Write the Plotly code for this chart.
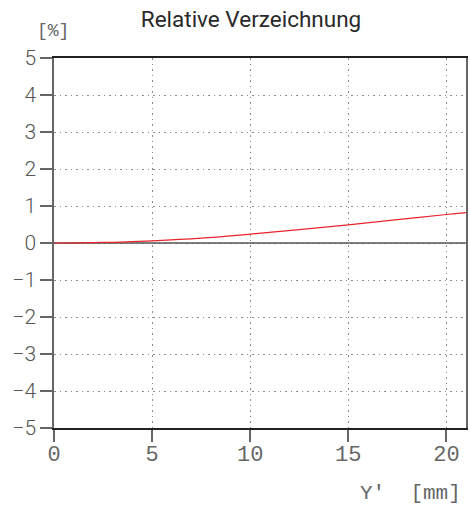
import plotly.graph_objects as go

# Relative distortion vs. image height
image_height_mm = [0, 2.5, 5, 7.5, 10, 12.5, 15, 17.5, 20, 21]
distortion_pct = [0.0, 0.015, 0.06, 0.13, 0.24, 0.36, 0.49, 0.63, 0.77, 0.82]

x_ticks = [0, 5, 10, 15, 20]
y_ticks = [-5, -4, -3, -2, -1, 0, 1, 2, 3, 4, 5]
y_tick_text = [("\u2212" + str(-v)) if v < 0 else str(v) for v in y_ticks]

mono = "Liberation Mono, Courier New, monospace"
sans = "Roboto, Arial, sans-serif"

W, H = 470, 507
L, R, T, B = 54, 2, 58, 79
PW, PH = W - L - R, H - T - B


def px_to_paper(px, py):
    return (px - L) / PW, (H - B - py) / PH


fig = go.Figure()

# zero reference line
fig.add_trace(go.Scatter(
    x=[0, 21], y=[0, 0], mode="lines",
    line=dict(color="#555555", width=1.6), hoverinfo="skip", showlegend=False,
))

fig.add_trace(go.Scatter(
    x=image_height_mm, y=distortion_pct, mode="lines",
    line=dict(color="#e8242b", width=1.2, shape="spline"),
    showlegend=False,
))

ux, uy = px_to_paper(53, 31)
mx, my = px_to_paper(465, 493)

fig.update_layout(
    width=W, height=H,
    margin=dict(l=L, r=R, t=T, b=B),
    paper_bgcolor="white", plot_bgcolor="white",
    title=dict(text="Relative Verzeichnung", x=251 / W, xanchor="center",
               y=1 - 19 / H, yanchor="middle",
               font=dict(family=sans, size=22.5, color="#2a2a2a")),
    xaxis=dict(
        range=[0, 21], tickvals=x_ticks, ticktext=[str(v) for v in x_ticks],
        showgrid=True, gridcolor="#8a8a8a", griddash="1.5px,4px", gridwidth=1,
        showline=True, linecolor="#222222", linewidth=1.5, mirror=True,
        ticks="outside", ticklen=12, tickcolor="#666666", tickwidth=1.5,
        ticklabelstandoff=-7,
        tickfont=dict(family=mono, size=22, color="#666666"),
        zeroline=False, fixedrange=True,
    ),
    yaxis=dict(
        range=[-5, 5], tickvals=y_ticks, ticktext=y_tick_text,
        showgrid=True, gridcolor="#8a8a8a", griddash="1.5px,4px", gridwidth=1,
        showline=True, linecolor="#666666", linewidth=1.5, mirror=True,
        ticks="outside", ticklen=12, tickcolor="#666666", tickwidth=1.5,
        ticklabelstandoff=0,
        tickfont=dict(family=sans, size=21, color="#555555", weight=300),
        zeroline=False, fixedrange=True,
    ),
    annotations=[
        dict(text="[%]", x=ux, y=uy, xref="paper", yref="paper",
             xanchor="center", yanchor="middle", showarrow=False,
             font=dict(family=mono, size=18, color="#666666")),
        dict(text="Y'\u00a0\u00a0[mm]", x=mx, y=my, xref="paper", yref="paper",
             xanchor="right", yanchor="middle", showarrow=False,
             font=dict(family=mono, size=21, color="#666666")),
    ],
)

fig.write_html("out.html")
